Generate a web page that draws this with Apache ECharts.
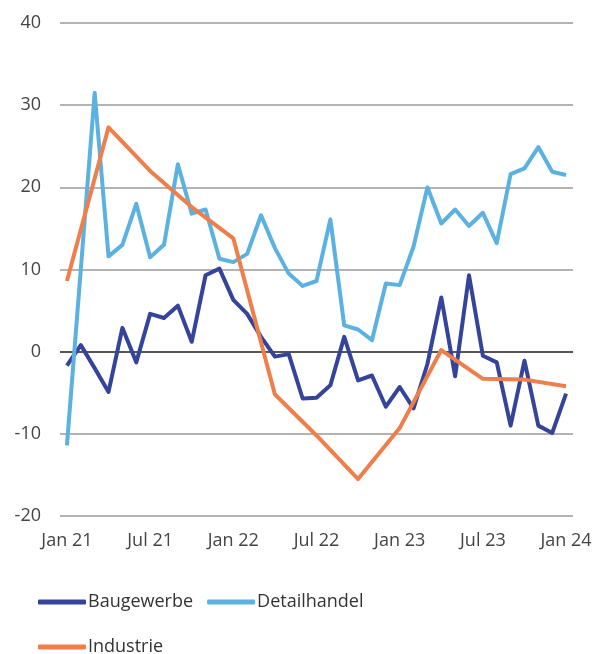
<!DOCTYPE html>
<html>
<head>
<meta charset="utf-8">
<script src="https://cdn.jsdelivr.net/npm/echarts@6/dist/echarts.min.js"></script>
<style>
html,body{margin:0;padding:0;background:#fff;}
#chart{width:597px;height:654px;}
</style>
</head>
<body>
<div id="chart"></div>
<script>
const months = ['Jan 21','Feb 21','Mar 21','Apr 21','May 21','Jun 21','Jul 21','Aug 21','Sep 21','Oct 21','Nov 21','Dec 21',
  'Jan 22','Feb 22','Mar 22','Apr 22','May 22','Jun 22','Jul 22','Aug 22','Sep 22','Oct 22','Nov 22','Dec 22',
  'Jan 23','Feb 23','Mar 23','Apr 23','May 23','Jun 23','Jul 23','Aug 23','Sep 23','Oct 23','Nov 23','Dec 23','Jan 24'];

const baugewerbe = [-1.7, 0.8, -2.0, -4.9, 2.9, -1.3, 4.6, 4.1, 5.6, 1.2, 9.3, 10.1,
  6.3, 4.6, 1.8, -0.6, -0.3, -5.7, -5.6, -4.1, 1.8, -3.5, -2.9, -6.7,
  -4.3, -6.9, -1.5, 6.6, -3.0, 9.3, -0.5, -1.3, -9.0, -1.1, -9.0, -9.9, -5.1];

const detailhandel = [-11.4, 10.0, 31.5, 11.6, 13.0, 18.0, 11.5, 13.0, 22.8, 16.8, 17.3, 11.3,
  10.9, 11.9, 16.6, 12.6, 9.5, 8.0, 8.6, 16.1, 3.2, 2.7, 1.4, 8.3,
  8.1, 12.8, 20.0, 15.6, 17.3, 15.3, 16.9, 13.2, 21.6, 22.3, 24.9, 21.9, 21.5];

// Industrie: quarterly values (Jan, Apr, Jul, Oct)
const industrieQuarters = ['Jan 21','Apr 21','Jul 21','Oct 21','Jan 22','Apr 22','Jul 22','Oct 22','Jan 23','Apr 23','Jul 23','Oct 23','Jan 24'];
const industrieValues = [8.6, 27.3, 22.0, 17.6, 13.8, -5.2, -10.2, -15.5, -9.3, 0.2, -3.3, -3.4, -4.2];

const yTicks = [-20, -10, 0, 10, 20, 30, 40];

const industrie = months.map(m => {
  const k = industrieQuarters.indexOf(m);
  return k >= 0 ? industrieValues[k] : null;
});

const FONT = '"Open Sans", sans-serif';
const chart = echarts.init(document.getElementById('chart'), null, {renderer: 'canvas'});
chart.setOption({
  animation: false,
  backgroundColor: '#fff',
  grid: {left: 60, right: 24, top: 23, bottom: 138, containLabel: false},
  xAxis: {
    type: 'category',
    data: months,
    boundaryGap: true,
    axisLine: {show: false},
    axisTick: {show: false},
    splitLine: {show: false},
    axisLabel: {
      interval: 5,
      margin: 16,
      color: '#444',
      fontFamily: FONT,
      fontSize: 18
    }
  },
  yAxis: {
    type: 'value',
    min: yTicks[0],
    max: yTicks[yTicks.length - 1],
    interval: 10,
    axisLine: {show: false},
    axisTick: {show: false},
    axisLabel: {
      margin: 19,
      color: '#444',
      fontFamily: FONT,
      fontSize: 18
    },
    splitLine: {lineStyle: {color: '#9a9a9a', width: 1.5}}
  },
  legend: [
    {
      data: ['Baugewerbe', 'Detailhandel'],
      left: 38, top: 593, padding: 0,
      itemWidth: 48, itemHeight: 5, itemGap: 14,
      icon: 'roundRect',
      textStyle: {color: '#333', fontFamily: FONT, fontSize: 18, padding: [0,0,0,-3]}
    },
    {
      data: ['Industrie'],
      left: 38, top: 638, padding: 0,
      itemWidth: 48, itemHeight: 5,
      icon: 'roundRect',
      textStyle: {color: '#333', fontFamily: FONT, fontSize: 18, padding: [0,0,0,-3]}
    }
  ],
  series: [
    {
      name: 'Baugewerbe', type: 'line', data: baugewerbe,
      showSymbol: false, symbol: 'none',
      color: '#34449a',
      lineStyle: {width: 4, color: '#34449a', join: 'round'},
      markLine: {
        silent: true, symbol: 'none', label: {show: false},
        lineStyle: {color: '#555', width: 2, type: 'solid'},
        data: [{yAxis: 0}],
        z: 1
      },
      z: 2
    },
    {
      name: 'Detailhandel', type: 'line', data: detailhandel,
      showSymbol: false, symbol: 'none',
      color: '#5bb2e0',
      lineStyle: {width: 4, color: '#5bb2e0', join: 'round'},
      z: 3
    },
    {
      name: 'Industrie', type: 'line', data: industrie,
      connectNulls: true,
      showSymbol: false, symbol: 'none',
      color: '#ef7e4a',
      lineStyle: {width: 4, color: '#ef7e4a', join: 'round'},
      z: 4
    }
  ]
});
</script>
</body>
</html>
